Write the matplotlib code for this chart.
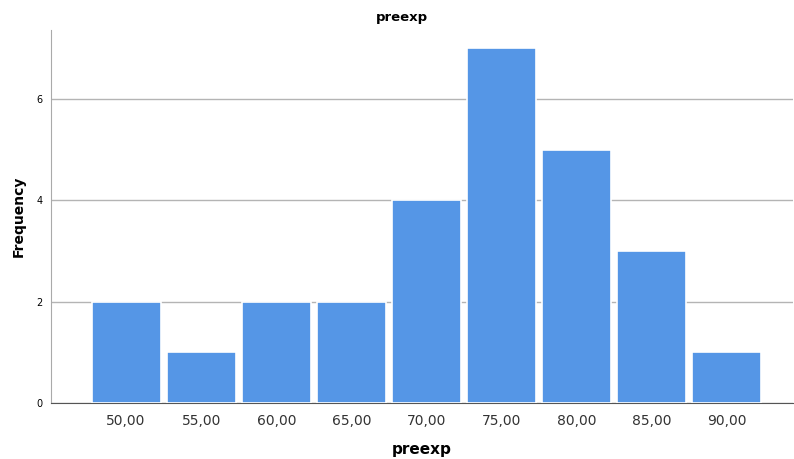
import matplotlib
matplotlib.use("Agg")
import matplotlib.pyplot as plt

bins = [50, 55, 60, 65, 70, 75, 80, 85, 90]
freq = [2, 1, 2, 2, 4, 7, 5, 3, 1]
xlabels = ["50,00", "55,00", "60,00", "65,00", "70,00", "75,00", "80,00", "85,00", "90,00"]

fig = plt.figure(figsize=(7.94, 4.59), dpi=100)
ax = fig.add_axes([0.0642, 0.122, 0.9345, 0.8126])

ax.bar(bins, freq, width=4.6, color="#5596e6", edgecolor="white", linewidth=1.2, zorder=3)

ax.set_xlim(45.0, 94.4)
ax.set_ylim(0, 7.36)
ax.set_yticks([0, 2, 4, 6])
ax.set_xticks(bins)
ax.set_xticklabels(xlabels)
ax.yaxis.grid(True, color="#b4b4b4", linewidth=1, zorder=0)
ax.set_axisbelow(True)
ax.tick_params(axis="y", length=0, labelsize=7, pad=6)
ax.tick_params(axis="x", length=0, labelsize=10, colors="#333333", pad=8)

for s in ["top", "right"]:
    ax.spines[s].set_visible(False)
ax.spines["left"].set_color("#aaaaaa")
ax.spines["bottom"].set_color("#555555")

fig.text(0.506, 1 - 18 / 459, "preexp", ha="center", va="center", fontsize=9.5, fontweight="bold")
ax.set_xlabel("preexp", fontsize=11, fontweight="bold", labelpad=10)
ax.yaxis.set_label_coords(-0.034, 0.5)
ax.set_ylabel("Frequency", fontsize=10, fontweight="bold")

fig.savefig("out.png", dpi=100)
